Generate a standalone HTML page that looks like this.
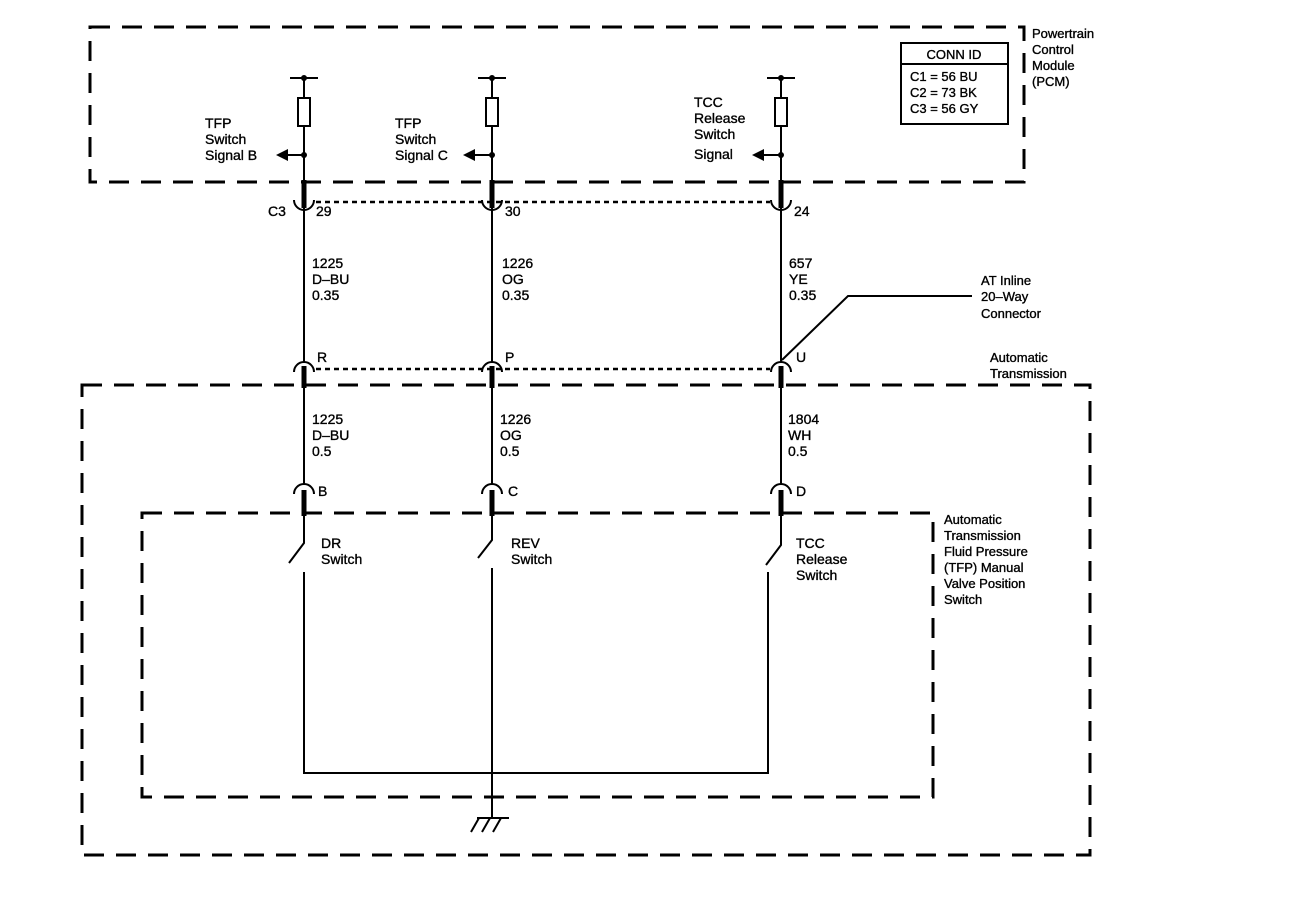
<!DOCTYPE html>
<html><head><style>
html,body{margin:0;padding:0;background:#fff}
svg{display:block}
text{font-family:"Liberation Sans",Arial,sans-serif;font-size:14px;fill:#000;stroke:#000;stroke-width:0.35}
</style></head><body>
<svg width="1312" height="904" viewBox="0 0 1312 904">
<g fill="none" stroke="#000" stroke-width="3" stroke-dasharray="20 12">
<rect x="90" y="27" width="934" height="155"/>
<rect x="82" y="385" width="1008" height="470"/>
<rect x="142" y="513" width="791" height="284"/>
</g>
<g fill="none" stroke="#000" stroke-width="2.5" stroke-dasharray="5 4">
<line x1="316" y1="202" x2="770" y2="202"/>
<line x1="316" y1="369" x2="770" y2="369"/>
</g>
<g fill="none" stroke="#000" stroke-width="2">
<line x1="290" y1="78" x2="318" y2="78"/><line x1="304" y1="78" x2="304" y2="98"/><rect x="298" y="98" width="12" height="28"/><line x1="304" y1="126" x2="304" y2="182"/>
<line x1="478" y1="78" x2="506" y2="78"/><line x1="492" y1="78" x2="492" y2="98"/><rect x="486" y="98" width="12" height="28"/><line x1="492" y1="126" x2="492" y2="182"/>
<line x1="767" y1="78" x2="795" y2="78"/><line x1="781" y1="78" x2="781" y2="98"/><rect x="775" y="98" width="12" height="28"/><line x1="781" y1="126" x2="781" y2="182"/>
<line x1="285" y1="155" x2="304" y2="155"/>
<line x1="473" y1="155" x2="492" y2="155"/>
<line x1="762" y1="155" x2="781" y2="155"/>
<path d="M294 200 A10 10 0 0 0 314 200"/>
<path d="M482 200 A10 10 0 0 0 502 200"/>
<path d="M771 200 A10 10 0 0 0 791 200"/>
<line x1="304" y1="208" x2="304" y2="362"/>
<line x1="492" y1="208" x2="492" y2="362"/>
<line x1="781" y1="208" x2="781" y2="362"/>
<path d="M294 372 A10 10 0 0 1 314 372"/>
<path d="M482 372 A10 10 0 0 1 502 372"/>
<path d="M771 372 A10 10 0 0 1 791 372"/>
<line x1="304" y1="385" x2="304" y2="484"/>
<line x1="492" y1="385" x2="492" y2="484"/>
<line x1="781" y1="385" x2="781" y2="484"/>
<path d="M294 494 A10 10 0 0 1 314 494"/>
<path d="M482 494 A10 10 0 0 1 502 494"/>
<path d="M771 494 A10 10 0 0 1 791 494"/>
<polyline points="304,515 304,543 289,563"/>
<polyline points="492,515 492,540 478,558"/>
<polyline points="781,515 781,545 766,565"/>
<line x1="304" y1="572" x2="304" y2="773"/>
<line x1="492" y1="568" x2="492" y2="818"/>
<line x1="768" y1="572" x2="768" y2="773"/>
<line x1="303" y1="773" x2="769" y2="773"/>
<line x1="477" y1="818" x2="509" y2="818"/>
<line x1="479" y1="818" x2="471" y2="832"/>
<line x1="490" y1="818" x2="482" y2="832"/>
<line x1="501" y1="818" x2="493" y2="832"/>
<polyline points="782,360 848,296 972,296"/>
<rect x="901" y="43" width="107" height="81"/>
<line x1="901" y1="64" x2="1008" y2="64"/>
</g>
<g stroke="#000" stroke-width="5">
<line x1="304" y1="180" x2="304" y2="208"/><line x1="492" y1="180" x2="492" y2="208"/><line x1="781" y1="180" x2="781" y2="208"/>
<line x1="304" y1="366" x2="304" y2="388"/><line x1="492" y1="366" x2="492" y2="388"/><line x1="781" y1="366" x2="781" y2="388"/>
<line x1="304" y1="490" x2="304" y2="516"/><line x1="492" y1="490" x2="492" y2="516"/><line x1="781" y1="490" x2="781" y2="516"/>
</g>
<g fill="#000">
<circle cx="304" cy="78" r="3"/><circle cx="492" cy="78" r="3"/><circle cx="781" cy="78" r="3"/>
<circle cx="304" cy="155" r="3"/><circle cx="492" cy="155" r="3"/><circle cx="781" cy="155" r="3"/>
<polygon points="276,155 288,149 288,161"/>
<polygon points="463,155 475,149 475,161"/>
<polygon points="752,155 764,149 764,161"/>
</g>
<text x="954" y="59" text-anchor="middle" style="font-size:13px">CONN ID</text>
<text x="910" y="81" style="font-size:13px">C1 = 56 BU</text>
<text x="910" y="97" style="font-size:13px">C2 = 73 BK</text>
<text x="910" y="113" style="font-size:13px">C3 = 56 GY</text>
<text style="font-size:13px"><tspan x="1032" y="38">Powertrain</tspan><tspan x="1032" y="54">Control</tspan><tspan x="1032" y="70">Module</tspan><tspan x="1032" y="86">(PCM)</tspan></text>
<text><tspan x="205" y="128">TFP</tspan><tspan x="205" y="144">Switch</tspan><tspan x="205" y="160">Signal B</tspan></text>
<text><tspan x="395" y="128">TFP</tspan><tspan x="395" y="144">Switch</tspan><tspan x="395" y="160">Signal C</tspan></text>
<text><tspan x="694" y="107">TCC</tspan><tspan x="694" y="123">Release</tspan><tspan x="694" y="139">Switch</tspan><tspan x="694" y="159">Signal</tspan></text>
<text x="268" y="216">C3</text><text x="316" y="216">29</text><text x="505" y="216">30</text><text x="794" y="216">24</text>
<text><tspan x="312" y="268">1225</tspan><tspan x="312" y="284">D–BU</tspan><tspan x="312" y="300">0.35</tspan></text>
<text><tspan x="502" y="268">1226</tspan><tspan x="502" y="284">OG</tspan><tspan x="502" y="300">0.35</tspan></text>
<text><tspan x="789" y="268">657</tspan><tspan x="789" y="284">YE</tspan><tspan x="789" y="300">0.35</tspan></text>
<text style="font-size:13px"><tspan x="981" y="285">AT Inline</tspan><tspan x="981" y="301">20–Way</tspan><tspan x="981" y="318">Connector</tspan></text>
<text x="317" y="362">R</text><text x="505" y="362">P</text><text x="796" y="362">U</text>
<text style="font-size:13px"><tspan x="990" y="362">Automatic</tspan><tspan x="990" y="378">Transmission</tspan></text>
<text><tspan x="312" y="424">1225</tspan><tspan x="312" y="440">D–BU</tspan><tspan x="312" y="456">0.5</tspan></text>
<text><tspan x="500" y="424">1226</tspan><tspan x="500" y="440">OG</tspan><tspan x="500" y="456">0.5</tspan></text>
<text><tspan x="788" y="424">1804</tspan><tspan x="788" y="440">WH</tspan><tspan x="788" y="456">0.5</tspan></text>
<text x="318" y="496">B</text><text x="508" y="496">C</text><text x="796" y="496">D</text>
<text><tspan x="321" y="548">DR</tspan><tspan x="321" y="564">Switch</tspan></text>
<text><tspan x="511" y="548">REV</tspan><tspan x="511" y="564">Switch</tspan></text>
<text><tspan x="796" y="548">TCC</tspan><tspan x="796" y="564">Release</tspan><tspan x="796" y="580">Switch</tspan></text>
<text style="font-size:13px"><tspan x="944" y="524">Automatic</tspan><tspan x="944" y="540">Transmission</tspan><tspan x="944" y="556">Fluid Pressure</tspan><tspan x="944" y="572">(TFP) Manual</tspan><tspan x="944" y="588">Valve Position</tspan><tspan x="944" y="604">Switch</tspan></text>
</svg>
</body></html>
